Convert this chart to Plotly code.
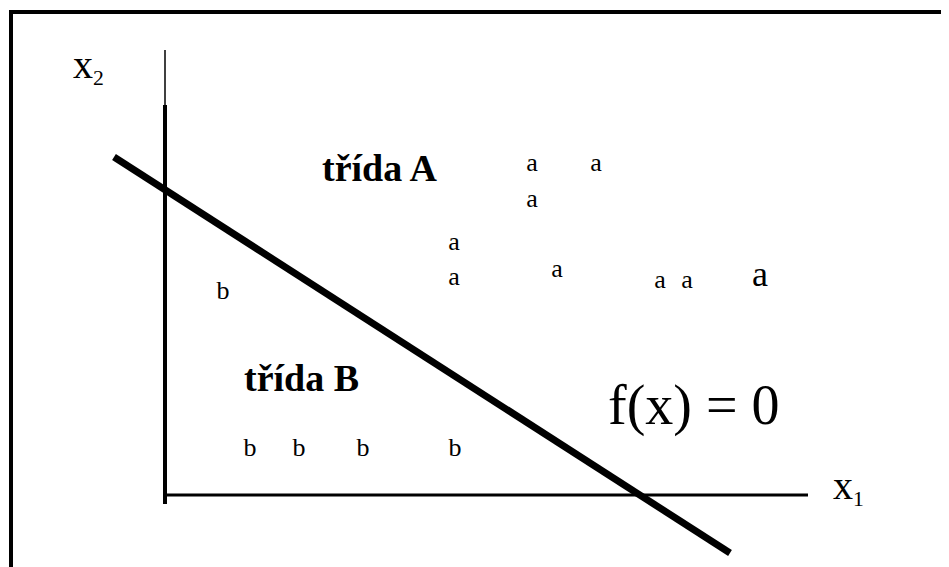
import plotly.graph_objects as go

# %% Data (diagram units, origin where the two axes meet)

# class A samples
a_x = [367, 431, 367, 289, 289, 392, 495, 522]
a_y = [331, 331, 295, 252, 217, 225, 214, 214]
a_big_x = [595]
a_big_y = [218]

# class B samples
b_x = [58, 85, 134, 198, 290]
b_y = [203, 46, 46, 46, 46]

# decision boundary f(x) = 0
line_x = [-51, 565]
line_y = [338, -58]

# axes
yaxis_thin_y = [445, 390]
yaxis_thick_y = [390, -9]
xaxis_x = [0, 643]

# frame around the picture
frame_x = [-154, -154, 800]
frame_y = [-90, 483, 483]

# labels
label_text = ["<b>třída A</b>", "<b>třída B</b>", "f(x) = 0"]
label_x = [215, 136, 529]
label_y = [327, 117, 90]
label_size = [38, 38, 56]

axis_text = ["x<span style='font-size:31px'><sub>1</sub></span>",
             "x<span style='font-size:31px'><sub>2</sub></span>"]
axis_text_x = [683, -77]
axis_text_y = [8, 429]

# %% Figure
font = "Liberation Serif, Times New Roman, serif"
fig = go.Figure()

fig.add_trace(go.Scatter(x=frame_x, y=frame_y, mode="lines",
                         line=dict(color="black", width=4)))
fig.add_trace(go.Scatter(x=[0, 0], y=yaxis_thin_y, mode="lines",
                         line=dict(color="black", width=1.5)))
fig.add_trace(go.Scatter(x=[0, 0], y=yaxis_thick_y, mode="lines",
                         line=dict(color="black", width=4)))
fig.add_trace(go.Scatter(x=xaxis_x, y=[0, 0], mode="lines",
                         line=dict(color="black", width=3)))
fig.add_trace(go.Scatter(x=line_x, y=line_y, mode="lines",
                         line=dict(color="black", width=7)))

fig.add_trace(go.Scatter(x=a_x, y=a_y, mode="text", text=["a"] * len(a_x),
                         textfont=dict(family=font, size=26, color="black")))
fig.add_trace(go.Scatter(x=a_big_x, y=a_big_y, mode="text", text=["a"],
                         textfont=dict(family=font, size=36, color="black")))
fig.add_trace(go.Scatter(x=b_x, y=b_y, mode="text", text=["b"] * len(b_x),
                         textfont=dict(family=font, size=26, color="black")))

for t, x, y, s in zip(label_text, label_x, label_y, label_size):
    fig.add_annotation(x=x, y=y, text=t, showarrow=False,
                       font=dict(family=font, size=s, color="black"))
for t, x, y in zip(axis_text, axis_text_x, axis_text_y):
    fig.add_annotation(x=x, y=y, text=t, showarrow=False,
                       font=dict(family=font, size=40, color="black"))

# the page body has an 8px margin, so the ranges are shifted by 8 units
fig.update_xaxes(range=[-157, 792], visible=False)
fig.update_yaxes(range=[-80, 487], visible=False)
fig.update_layout(width=949, height=567, margin=dict(l=0, r=0, t=0, b=0),
                  showlegend=False, hovermode=False,
                  paper_bgcolor="white", plot_bgcolor="white")

fig.write_html("out.html")
